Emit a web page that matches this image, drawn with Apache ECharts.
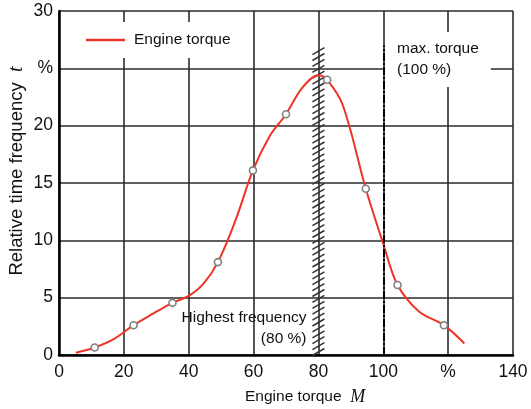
<!DOCTYPE html>
<html>
<head>
<meta charset="utf-8">
<script src="https://cdn.jsdelivr.net/npm/echarts@6/dist/echarts.min.js"></script>
<style>html,body{margin:0;background:#fff}#main{width:531px;height:409px}</style>
</head>
<body>
<div id="main"></div>
<script>
  // curve (extra points keep the shape between markers)
  const curveX = [5.2, 11, 17, 23, 29, 35, 40, 44.5, 49, 54.5, 59.8, 65, 70, 75, 80, 82.7, 87.5, 94.6, 100, 104.4, 111, 118.7, 125]
  const curveY = [0.2, 0.65, 1.4, 2.6, 3.6, 4.55, 5.15, 6.2, 8.1, 11.8, 16.1, 19.1, 21.0, 23.3, 24.4, 24.0, 21.8, 14.5, 9.7, 6.1, 3.8, 2.6, 1.0]
  // measured points (open circles)
  const pointX = [11, 23, 35, 49, 59.8, 70, 82.7, 94.6, 104.4, 118.7]
  const pointY = [0.65, 2.6, 4.55, 8.1, 16.1, 21.0, 24.0, 14.5, 6.1, 2.6]
  const xTickLabels = ['0', '20', '40', '60', '80', '100', '%', '140']
  const yTickLabels = ['0', '5', '10', '15', '20', '%', '30']
  const highestFreqX = 80
  const maxTorqueX = 100
  const markTop = 27

  const font = 'Liberation Sans, Arial, sans-serif'
  const red = '#ee3327'

  function hatch(params, api) {
    const base = api.coord([api.value(0), api.value(1)])
    const top = api.coord([api.value(0), api.value(2)])
    const children = []
    for (let y = base[1] - 3; y > top[1] + 3; y -= 5.9) {
      children.push({
        type: 'line',
        shape: { x1: base[0] - 6, y1: y + 3.5, x2: base[0] + 6, y2: y - 3.5 },
        style: { stroke: '#333', lineWidth: 1.5 }
      })
    }
    return { type: 'group', children: children }
  }

  const chart = echarts.init(document.getElementById('main'))
  chart.setOption({
    animation: false,
    grid: { left: 59, right: 18, top: 11, bottom: 54 },
    legend: {
      data: [{ name: 'Engine torque', icon: 'rect' }],
      left: 70,
      top: 22,
      padding: [10, 13, 10, 16],
      backgroundColor: '#fff',
      itemWidth: 39,
      itemHeight: 2.5,
      textStyle: { fontFamily: font, fontSize: 15.5, color: '#111', padding: [0, 0, 0, 4] }
    },
    xAxis: {
      type: 'value',
      min: 0,
      max: 140,
      interval: 20,
      axisLine: { lineStyle: { color: '#000', width: 2.5 } },
      axisTick: { show: false },
      axisLabel: {
        fontFamily: font, fontSize: 17.5, color: '#111', margin: 8,
        formatter: v => xTickLabels[Math.round(v / 20)]
      },
      splitLine: { show: true, lineStyle: { color: '#2b2b2b', width: 1.6 } }
    },
    yAxis: {
      type: 'value',
      min: 0,
      max: 30,
      interval: 5,
      axisLine: { show: true, lineStyle: { color: '#000', width: 2.5 } },
      axisTick: { show: false },
      axisLabel: {
        fontFamily: font, fontSize: 17.5, color: '#111', margin: 6,
        formatter: v => yTickLabels[Math.round(v / 5)]
      },
      splitLine: { show: true, lineStyle: { color: '#2b2b2b', width: 1.6 } }
    },
    series: [
      {
        type: 'custom',
        name: 'hatch',
        renderItem: hatch,
        data: [[highestFreqX, 0, markTop]],
        silent: true,
        clip: false,
        z: 1
      },
      {
        name: 'Engine torque',
        type: 'line',
        smooth: 0.35,
        showSymbol: false,
        data: curveX.map((x, i) => [x, curveY[i]]),
        lineStyle: { color: red, width: 2 },
        itemStyle: { color: red },
        z: 3,
        markLine: {
          silent: true,
          symbol: ['none', 'none'],
          label: { show: false },
          lineStyle: { color: '#000', width: 2, type: [8, 2, 2, 2] },
          data: [[{ coord: [maxTorqueX, 0] }, { coord: [maxTorqueX, markTop] }]]
        }
      },
      {
        name: 'points',
        type: 'scatter',
        symbol: 'circle',
        symbolSize: 7,
        data: pointX.map((x, i) => [x, pointY[i]]),
        itemStyle: { color: '#fff', borderColor: '#808080', borderWidth: 1.6, opacity: 1 },
        z: 4
      }
    ],
    graphic: [
      {
        type: 'text', z: 100, x: 385, y: 32,
        style: {
          text: 'max. torque\n(100 %)',
          font: '15.5px ' + font,
          fill: '#111',
          lineHeight: 21,
          backgroundColor: '#fff',
          padding: [6, 12, 7, 12]
        }
      },
      {
        type: 'text', z: 100, x: 306.5, y: 307.5,
        style: {
          text: 'Highest frequency\n(80 %)',
          font: '15.5px ' + font,
          fill: '#111',
          align: 'right',
          lineHeight: 21
        }
      },
      {
        type: 'text', z: 100, x: 245, y: 397,
        style: {
          text: 'Engine torque  {i|M}',
          font: '15.5px ' + font,
          fill: '#111',
          verticalAlign: 'middle',
          rich: { i: { fontFamily: 'Liberation Serif', fontStyle: 'italic', fontSize: 18, fill: '#111' } }
        }
      },
      {
        type: 'text', z: 100, x: 17, y: 171, rotation: Math.PI / 2,
        style: {
          text: 'Relative time frequency  {i|t}',
          font: '18.5px ' + font,
          fill: '#111',
          align: 'center',
          verticalAlign: 'middle',
          rich: { i: { fontFamily: 'Liberation Serif', fontStyle: 'italic', fontSize: 20, fill: '#111' } }
        }
      }
    ]
  })
</script>
</body>
</html>
